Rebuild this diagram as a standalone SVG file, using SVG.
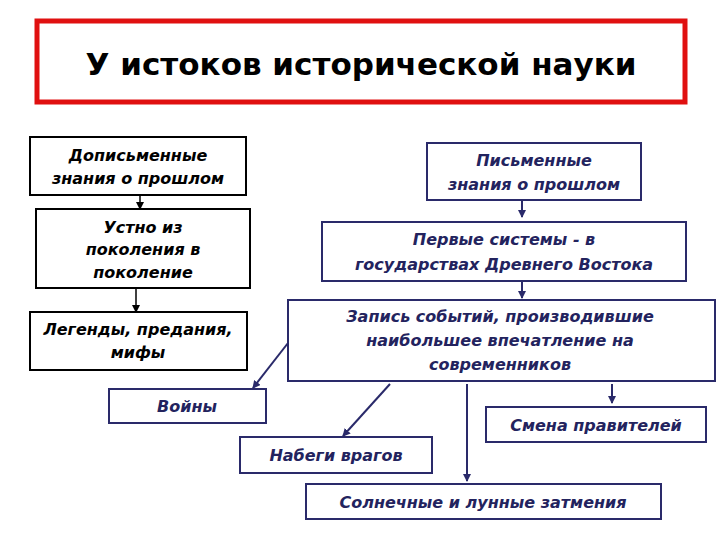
<svg xmlns="http://www.w3.org/2000/svg" width="720" height="540" viewBox="0 0 720 540">
<style>
.k{fill:#fff;stroke:#000;stroke-width:2}
.b{fill:#fff;stroke:#2a2a6a;stroke-width:2}
.t{font-family:"DejaVu Sans",Verdana,sans-serif;font-size:16px;font-style:italic;font-weight:bold;text-anchor:middle}
.tk{fill:#000}.tb{fill:#23235e}
.c{stroke:#2a2a6a;stroke-width:2;fill:none;marker-end:url(#a)}
.ck{stroke:#000;stroke-width:1.5;fill:none;marker-end:url(#ak)}
</style>
<defs>
<marker id="a" markerWidth="8" markerHeight="8" refX="7" refY="4" orient="auto" markerUnits="userSpaceOnUse"><path d="M0,0L8,4L0,8z" fill="#2a2a6a"/></marker>
<marker id="ak" markerWidth="8" markerHeight="8" refX="7" refY="4" orient="auto" markerUnits="userSpaceOnUse"><path d="M0,0L8,4L0,8z" fill="#000"/></marker>
</defs>
<rect width="720" height="540" fill="#fff"/>
<g id="title"><rect x="37" y="21" width="648" height="81" fill="#fff" stroke="#e01010" stroke-width="5"/>
<text x="361" y="75" font-family="DejaVu Sans,Verdana,sans-serif" font-weight="bold" font-size="31" text-anchor="middle" fill="#000">У истоков исторической науки</text></g>
<g id="n1"><rect class="k" x="30" y="137" width="216" height="58"/><text class="t tk" x="138" y="161">Дописьменные</text><text class="t tk" x="138" y="184">знания о прошлом</text></g>
<g id="n2"><rect class="k" x="36" y="209" width="214" height="79"/><text class="t tk" x="143" y="233">Устно из</text><text class="t tk" x="143" y="255">поколения в</text><text class="t tk" x="143" y="278">поколение</text></g>
<g id="n3"><rect class="k" x="30" y="312" width="217" height="58"/><text class="t tk" x="138" y="335">Легенды, предания,</text><text class="t tk" x="138" y="358">мифы</text></g>
<g id="n4"><rect class="b" x="427" y="143" width="214" height="57"/><text class="t tb" x="534" y="166">Письменные</text><text class="t tb" x="534" y="190">знания о прошлом</text></g>
<g id="n5"><rect class="b" x="322" y="222" width="364" height="59"/><text class="t tb" x="504" y="245">Первые системы  - в</text><text class="t tb" x="504" y="270">государствах Древнего Востока</text></g>
<g id="n6"><rect class="b" x="288" y="300" width="427" height="81"/><text class="t tb" x="500" y="322">Запись событий, производившие</text><text class="t tb" x="500" y="346">наибольшее впечатление на</text><text class="t tb" x="500" y="370">современников</text></g>
<g id="n7"><rect class="b" x="109" y="389" width="157" height="34"/><text class="t tb" x="187" y="412" font-weight="normal">Войны</text></g>
<g id="n8"><rect class="b" x="486" y="407" width="220" height="35"/><text class="t tb" x="596" y="431">Смена правителей</text></g>
<g id="n9"><rect class="b" x="240" y="437" width="192" height="36"/><text class="t tb" x="336" y="461">Набеги врагов</text></g>
<g id="n10"><rect class="b" x="306" y="484" width="355" height="35"/><text class="t tb" x="483" y="508">Солнечные и лунные затмения</text></g>
<g id="connectors">
<path class="ck" d="M140,195V209"/>
<path class="ck" d="M136,288V312"/>
<path class="c" d="M522,200V217"/>
<path class="c" d="M522,281V298"/>
<path class="c" d="M288,343L253,388"/>
<path class="c" d="M390,384L343,436"/>
<path class="c" d="M467,384V481"/>
<path class="c" d="M612,384V403"/>
</g>
</svg>
